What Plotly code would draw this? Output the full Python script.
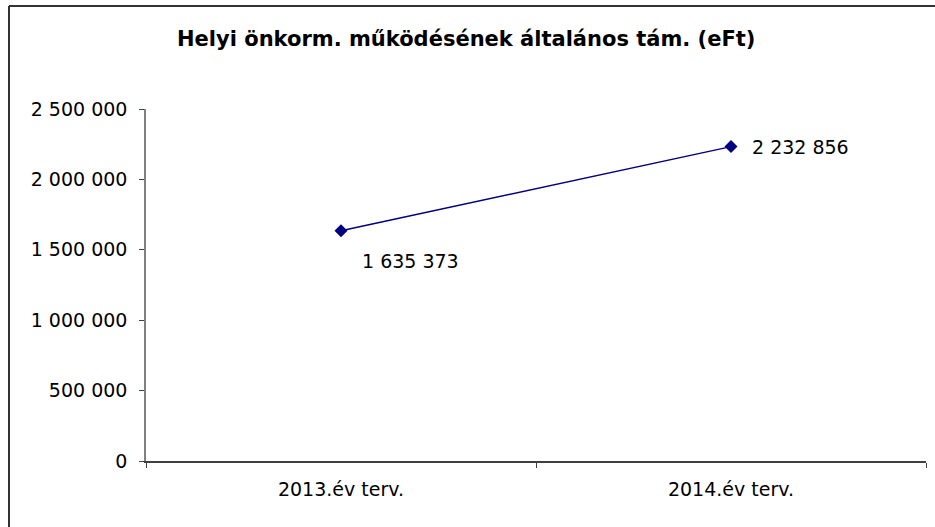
import plotly.graph_objects as go

title_text = "Helyi önkorm. működésének általános tám. (eFt)"
categories = ["2013.év terv.", "2014.év terv."]
values = [1635373, 2232856]
y_tick_vals = [0, 500000, 1000000, 1500000, 2000000, 2500000]

label_xshift = [19, 19]
label_yshift = [-30, 0]

def fmt(v):
    return f"{v:,}".replace(",", " ")

W, H = 935, 527
L, R, T, B = 146, 9, 109, 66
pw = W - L - R
ph = H - T - B

def px_x(x):  # page pixel -> paper x
    return (x - L) / pw

def px_y(y):  # page pixel -> paper y
    return (H - B - y) / ph

fig = go.Figure()
fig.add_trace(go.Scatter(
    x=categories, y=values, mode="lines+markers",
    line=dict(color="#000080", width=1.5),
    marker=dict(symbol="diamond", size=10, color="#000080"),
    hoverinfo="skip", showlegend=False,
))

font_family = "DejaVu Sans"
annotations = []
for c, v, xs, ys in zip(categories, values, label_xshift, label_yshift):
    annotations.append(dict(
        x=c, y=v, xref="x", yref="y", text=fmt(v), showarrow=False,
        xanchor="left", yanchor="middle", xshift=xs, yshift=ys,
        font=dict(family=font_family, size=19, color="#000000"),
    ))

annotations.append(dict(
    text="<b>" + title_text + "</b>", xref="paper", yref="paper",
    x=px_x(466), y=px_y(39), xanchor="center", yanchor="middle",
    showarrow=False, font=dict(family=font_family, size=21, color="#000000"),
))

shapes = [
    dict(type="line", xref="paper", yref="paper",
         x0=px_x(9), x1=px_x(9), y0=px_y(6), y1=px_y(560),
         line=dict(color="#333333", width=2)),
    dict(type="line", xref="paper", yref="paper",
         x0=px_x(9), x1=px_x(960), y0=px_y(6), y1=px_y(6),
         line=dict(color="#333333", width=2)),
]

fig.update_layout(
    width=W, height=H,
    margin=dict(l=L, r=R, t=T, b=B, pad=0),
    paper_bgcolor="white", plot_bgcolor="white",
    separators=", ",
    font=dict(family=font_family, size=19, color="#000000"),
    annotations=annotations, shapes=shapes,
    xaxis=dict(
        type="category", range=[-0.5, 1.5], tickson="boundaries",
        ticks="outside", ticklen=5, tickcolor="#404040", tickwidth=1,
        showline=True, linecolor="#404040", linewidth=1.5,
        showgrid=False, zeroline=False,
        tickfont=dict(family=font_family, size=19, color="#000000"),
        ticklabelstandoff=10,
    ),
    yaxis=dict(
        range=[0, 2500000], tickmode="array", tickvals=y_tick_vals,
        tickformat=",d", ticks="outside", ticklen=5, tickcolor="#404040",
        showline=True, linecolor="#808080", linewidth=1.5,
        showgrid=False, zeroline=False,
        tickfont=dict(family=font_family, size=19, color="#000000"),
        ticklabelstandoff=8,
    ),
)

fig.write_html(
    "out.html",
    config={"displayModeBar": False},
    post_script="document.body.style.margin='0';document.body.style.overflow='hidden';",
)
